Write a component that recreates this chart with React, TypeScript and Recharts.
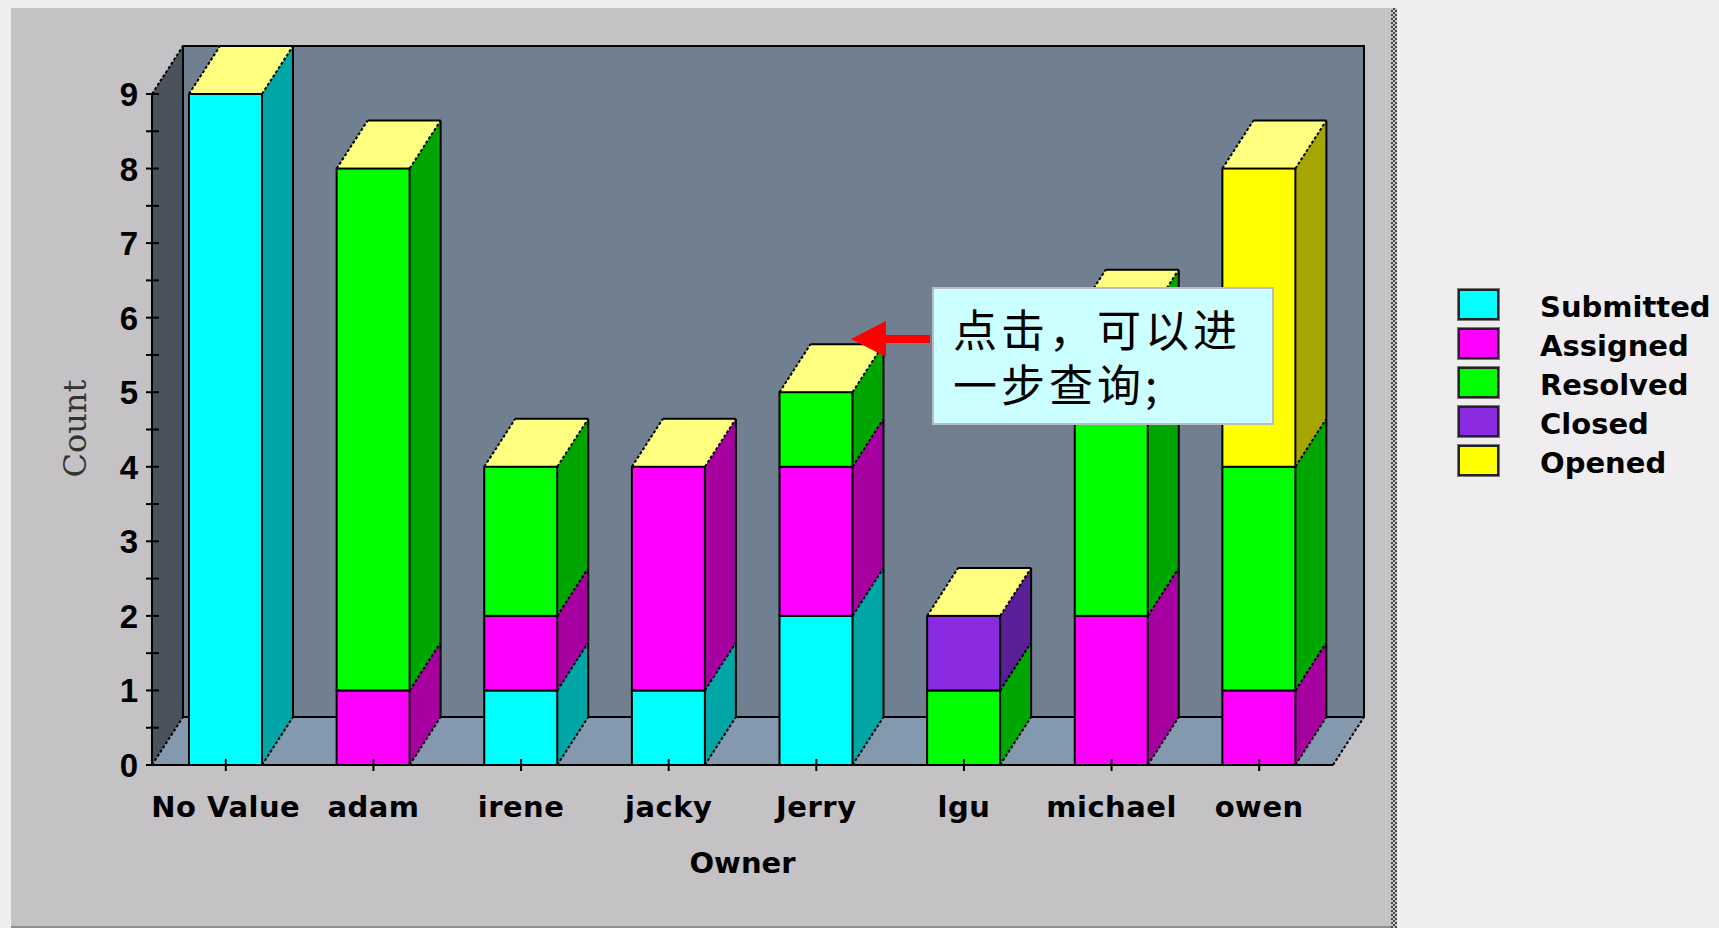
import { Bar, BarChart, Customized, Legend, XAxis, YAxis } from "recharts";

const owners = ["No Value", "adam", "irene", "jacky", "Jerry", "lgu", "michael", "owen"];
const submitted = [9, 0, 1, 1, 2, 0, 0, 0];
const assigned = [0, 1, 1, 3, 2, 0, 2, 1];
const resolved = [0, 7, 2, 0, 1, 1, 4, 3];
const closed = [0, 0, 0, 0, 0, 1, 0, 0];
const opened = [0, 0, 0, 0, 0, 0, 0, 4];
const countTicks = [0, 0.5, 1, 1.5, 2, 2.5, 3, 3.5, 4, 4.5, 5, 5.5, 6, 6.5, 7, 7.5, 8, 8.5, 9];

const seriesList = [
  { name: "Submitted", values: submitted, color: "#00ffff", side: "#00a6a6" },
  { name: "Assigned", values: assigned, color: "#ff00ff", side: "#a600a0" },
  { name: "Resolved", values: resolved, color: "#00ff00", side: "#00a600" },
  { name: "Closed", values: closed, color: "#8a2be2", side: "#5a1e96" },
  { name: "Opened", values: opened, color: "#ffff00", side: "#a6a600" },
];

const data = owners.map((owner, i) => {
  const row: Record<string, any> = { owner };
  seriesList.forEach((s) => {
    row[s.name] = s.values[i];
  });
  return row;
});

// plot box and 3d depth, in chart pixels
const LEFT = 152;
const TOP = 94;
const RIGHT = 1333;
const BOTTOM = 765;
const DX = 31;
const DY = 48;
const JAG = "3 2";

const Walls = () => (
  <g>
    <rect x={LEFT + DX} y={TOP - DY} width={RIGHT - LEFT} height={BOTTOM - TOP} fill="#708090" stroke="#000" strokeWidth={2} />
    <polygon
      points={`${LEFT},${TOP} ${LEFT + DX},${TOP - DY} ${LEFT + DX},${BOTTOM - DY} ${LEFT},${BOTTOM}`}
      fill="#4a525c"
    />
    <polygon
      points={`${LEFT},${BOTTOM} ${LEFT + DX},${BOTTOM - DY} ${RIGHT + DX},${BOTTOM - DY} ${RIGHT},${BOTTOM}`}
      fill="#8499ad"
    />
    <line x1={LEFT + DX} y1={TOP - DY} x2={LEFT + DX} y2={BOTTOM - DY} stroke="#000" strokeWidth={2} />
    <line x1={LEFT + DX} y1={BOTTOM - DY} x2={RIGHT + DX} y2={BOTTOM - DY} stroke="#000" strokeWidth={2} />
    <line x1={LEFT} y1={TOP} x2={LEFT + DX} y2={TOP - DY} stroke="#000" strokeWidth={2} strokeDasharray={JAG} />
    <line x1={LEFT} y1={BOTTOM} x2={LEFT + DX} y2={BOTTOM - DY} stroke="#000" strokeWidth={2} strokeDasharray={JAG} />
    <line x1={RIGHT} y1={BOTTOM} x2={RIGHT + DX} y2={BOTTOM - DY} stroke="#000" strokeWidth={2} strokeDasharray={JAG} />
  </g>
);

const Block = (props: any) => {
  const { x, y, width, height, payload, seriesIndex } = props;
  if (!height || height <= 0) return null;
  const s = seriesList[seriesIndex];
  const isTop = seriesList.slice(seriesIndex + 1).every((o) => !payload[o.name]);
  const r = x + width;
  const b = y + height;
  return (
    <g>
      <polygon points={`${r},${b} ${r + DX},${b - DY} ${r + DX},${y - DY} ${r},${y}`} fill={s.side} />
      <line x1={r} y1={b} x2={r + DX} y2={b - DY} stroke="#000" strokeWidth={2} strokeDasharray={JAG} />
      <line x1={r + DX} y1={b - DY} x2={r + DX} y2={y - DY} stroke="#000" strokeWidth={2} />
      {isTop && (
        <g>
          <polygon points={`${x},${y} ${x + DX},${y - DY} ${r + DX},${y - DY} ${r},${y}`} fill="#ffff80" />
          <line x1={x} y1={y} x2={x + DX} y2={y - DY} stroke="#000" strokeWidth={2} strokeDasharray={JAG} />
          <line x1={x + DX} y1={y - DY} x2={r + DX} y2={y - DY} stroke="#000" strokeWidth={2} />
          <line x1={r} y1={y} x2={r + DX} y2={y - DY} stroke="#000" strokeWidth={2} strokeDasharray={JAG} />
        </g>
      )}
      <rect x={x} y={y} width={width} height={height} fill={s.color} stroke="#000" strokeWidth={2} />
    </g>
  );
};

const CountTick = ({ x, y, payload }: any) => (
  <g>
    <line x1={x - 6} y1={y} x2={x + 7} y2={y} stroke="#000" strokeWidth={2} />
    {Number.isInteger(payload.value) && (
      <text x={x - 14} y={y + 12} textAnchor="end" fontFamily="Liberation Sans" fontWeight="bold" fontSize={33} fill="#000">
        {payload.value}
      </text>
    )}
  </g>
);

const OwnerTick = ({ x, y, payload }: any) => (
  <g>
    <line x1={x} y1={y - 6} x2={x} y2={y + 6} stroke="#000" strokeWidth={2} />
    <text x={x} y={y + 52} textAnchor="middle" fontFamily="DejaVu Sans" fontWeight="bold" fontSize={29} letterSpacing={0.5} fill="#000">
      {payload.value}
    </text>
  </g>
);

const LegendBox = ({ payload }: any) => (
  <div>
    {(payload ?? []).map((entry: any) => (
      <div key={entry.value} style={{ display: "flex", alignItems: "center", height: 39 }}>
        <div
          style={{
            width: 37,
            height: 27,
            background: entry.color,
            border: "2px solid #222",
            outline: "1px solid #777",
            marginRight: 41,
            flexShrink: 0,
          }}
        />
        <span
          style={{
            fontFamily: "DejaVu Sans",
            fontWeight: "bold",
            fontSize: 29,
            color: "#000",
            lineHeight: "39px",
            position: "relative",
            top: 3,
          }}
        >
          {entry.value}
        </span>
      </div>
    ))}
  </div>
);

const Callout = () => (
  <svg width={1719} height={928} style={{ position: "absolute", left: 0, top: 0, pointerEvents: "none" }}>
    <rect x={933} y={288} width={340} height={136} fill="#ccffff" stroke="#b9bdc2" strokeWidth={2} />
    <polygon points="851,339 886,321 886,335 930,335 930,343 886,343 886,357" fill="#ff0000" />
    <g fontFamily="Noto Sans CJK SC" fontSize={44} fill="#000">
      <text x={953} y={347} letterSpacing={4}>点击，可以进</text>
      <text x={953} y={402} letterSpacing={4}>一步查询;</text>
    </g>
  </svg>
);

export default function App() {
  return (
    <div style={{ position: "absolute", left: 0, top: 0, width: 1719, height: 928, background: "#f0edf1", overflow: "hidden" }}>
      <div
        style={{
          position: "absolute",
          left: 11,
          top: 8,
          width: 1380,
          height: 918,
          background: "#c4c2c5",
          borderBottom: "2px solid #8f8d90",
        }}
      />
      <div
        style={{
          position: "absolute",
          left: 1391,
          top: 8,
          width: 6,
          height: 920,
          background: "repeating-conic-gradient(#4a4a4a 0 25%, #c4c2c5 0 50%) 0 0/4px 4px",
        }}
      />
      <div style={{ position: "absolute", left: 0, top: 0 }}>
        <BarChart
          width={1719}
          height={928}
          data={data}
          margin={{ top: TOP, right: 1719 - RIGHT, bottom: 0, left: 0 }}
          barSize={73}
        >
          <Customized component={<Walls />} />
          <XAxis
            dataKey="owner"
            height={928 - BOTTOM}
            interval={0}
            tickLine={false}
            tickSize={0}
            tickMargin={0}
            axisLine={{ stroke: "#000", strokeWidth: 2 }}
            tick={<OwnerTick />}
            label={{
              value: "Owner",
              position: "insideBottom",
              offset: 55,
              fontFamily: "DejaVu Sans",
              fontWeight: "bold",
              fontSize: 29,
              fill: "#000",
            }}
          />
          <YAxis
            width={LEFT}
            domain={[0, 9]}
            ticks={countTicks}
            interval={0}
            tickLine={false}
            tickSize={0}
            tickMargin={0}
            axisLine={{ stroke: "#000", strokeWidth: 2 }}
            tick={<CountTick />}
            label={{
              value: "Count",
              angle: -90,
              position: "insideLeft",
              offset: 0,
              dx: 75,
              dy: 48,
              fontFamily: "DejaVu Serif",
              fontSize: 32,
              fill: "#333",
            }}
          />
          <Legend
            layout="vertical"
            align="center"
            verticalAlign="middle"
            itemSorter={null}
            wrapperStyle={{ left: 1458, top: 285, width: 261, height: 200 }}
            content={<LegendBox />}
          />
          {seriesList.map((s, i) => (
            <Bar
              key={s.name}
              dataKey={s.name}
              name={s.name}
              stackId="owner"
              fill={s.color}
              isAnimationActive={false}
              shape={(props: any) => <Block {...props} seriesIndex={i} />}
            />
          ))}
        </BarChart>
      </div>
      <Callout />
    </div>
  );
}
